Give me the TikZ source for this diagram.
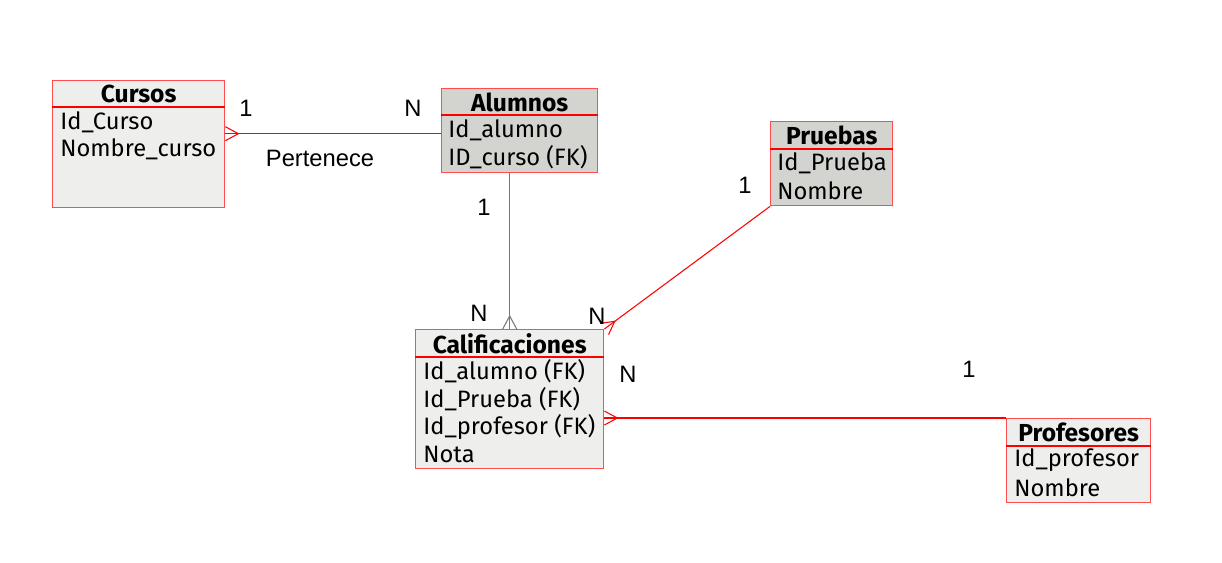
\documentclass[tikz,border=0pt]{standalone}
\usepackage{fontspec}
\setmainfont{Fira Sans}
\newfontfamily\cardfont{Liberation Sans}
\usepackage{xcolor}
\usepackage{tikz}
\usetikzlibrary{calc}
\definecolor{claro}{HTML}{EEEEEC}
\definecolor{oscuro}{HTML}{D3D3CF}
\definecolor{gris}{HTML}{777777}

% crow's foot: end point, point on the other side
\newcommand{\patagallo}[3][red]{%
  \draw[#1, line width=0.6pt] ($(#2)!0.14cm!90:(#3)$) -- ($(#2)!0.26cm!(#3)$) -- ($(#2)!0.14cm!-90:(#3)$);
}

\begin{document}
\begin{tikzpicture}[x=0.02cm, y=-0.02cm,
  tabla/.style={draw=red!70, line width=0.8pt, anchor=north west, inner sep=0pt},
  titulo/.style={font=\bfseries\fontsize{14}{16}\selectfont, inner sep=0pt},
  campo/.style={anchor=west, font=\fontsize{13.5}{16}\selectfont, inner sep=0pt},
  card/.style={font=\cardfont\fontsize{13.5}{15}\selectfont, inner sep=0pt},
  rel/.style={red, line width=0.6pt},
  linea/.style={red, line width=0.75pt}]
\useasboundingbox (0,0) rectangle (1222,562);

% Cursos
\node[tabla, fill=claro, minimum width=3.44cm, minimum height=2.54cm] (cursos) at (52,80) {};
\draw[linea] ([yshift=-0.54cm]cursos.north west) -- ([yshift=-0.54cm]cursos.north east);
\node[titulo] (cursos-t) at ([yshift=-0.28cm]cursos.north) {Cursos};
\foreach \f [count=\i] in {Id\_Curso, Nombre\_curso}
  \node[campo] (cursos-\i) at ($(cursos.north west)+(8,{14.5+27.5*\i})$) {\f};

% Alumnos
\node[tabla, fill=oscuro, minimum width=3.12cm, minimum height=1.68cm] (alumnos) at (441,88) {};
\draw[linea] ([yshift=-0.54cm]alumnos.north west) -- ([yshift=-0.54cm]alumnos.north east);
\node[titulo] (alumnos-t) at ([yshift=-0.28cm]alumnos.north) {Alumnos};
\foreach \f [count=\i] in {Id\_alumno, ID\_curso (FK)}
  \node[campo] (alumnos-\i) at ($(alumnos.north west)+(7,{14.5+27.5*\i})$) {\f};

% Pruebas
\node[tabla, fill=oscuro, minimum width=2.44cm, minimum height=1.68cm] (pruebas) at (770,121) {};
\draw[linea] ([yshift=-0.56cm]pruebas.north west) -- ([yshift=-0.56cm]pruebas.north east);
\node[titulo] (pruebas-t) at ([yshift=-0.29cm]pruebas.north) {Pruebas};
\foreach \f [count=\i] in {Id\_Prueba, Nombre}
  \node[campo] (pruebas-\i) at ($(pruebas.north west)+(7,{15+27.5*\i})$) {\f};

% Calificaciones
\node[tabla, fill=claro, minimum width=3.76cm, minimum height=2.78cm] (calif) at (415,329) {};
\draw[linea] ([yshift=-0.56cm]calif.north west) -- ([yshift=-0.56cm]calif.north east);
\node[titulo] (calif-t) at ([yshift=-0.29cm]calif.north) {Calificaciones};
\foreach \f [count=\i] in {Id\_alumno (FK), Id\_Prueba (FK), Id\_profesor (FK), Nota}
  \node[campo] (calif-\i) at ($(calif.north west)+(8,{15+27.5*\i})$) {\f};

% Profesores
\node[tabla, fill=claro, minimum width=2.88cm, minimum height=1.68cm] (profesores) at (1006,418) {};
\draw[linea] ([yshift=-0.56cm]profesores.north west) -- ([yshift=-0.56cm]profesores.north east);
\node[titulo] (profesores-t) at ([yshift=-0.29cm]profesores.north) {Profesores};
\foreach \f [count=\i] in {Id\_profesor, Nombre}
  \node[campo] (profesores-\i) at ($(profesores.north west)+(8,{15+27.5*\i})$) {\f};

% Relaciones
\coordinate (a1) at ([yshift=-0.06cm]alumnos.west);
\coordinate (p1) at (a1 -| cursos.east);
\draw[rel] (a1) -- (p1);
\patagallo{p1}{a1}

\coordinate (p2) at (calif.north |- alumnos.south);
\draw[gris, line width=0.6pt] (p2) -- (calif.north);
\patagallo[gris]{calif.north}{p2}

\draw[rel] (pruebas.south west) -- (calif.north east);
\patagallo{calif.north east}{pruebas.south west}

\coordinate (p3) at (profesores.north west -| calif.east);
\draw[rel] (profesores.north west) -- (p3);
\patagallo{p3}{profesores.north west}

% Cardinalidades
\node[card] (c1) at (246,108) {1};
\node[card] (c2) at (413,108) {N};
\node[card] (c3) at (320,158) {Pertenece};
\node[card] (c4) at (484,207) {1};
\node[card] (c5) at (479,313) {N};
\node[card] (c6) at (745,185) {1};
\node[card] (c7) at (597,316) {N};
\node[card] (c8) at (628,374) {N};
\node[card] (c9) at (969,369) {1};
\end{tikzpicture}
\end{document}
